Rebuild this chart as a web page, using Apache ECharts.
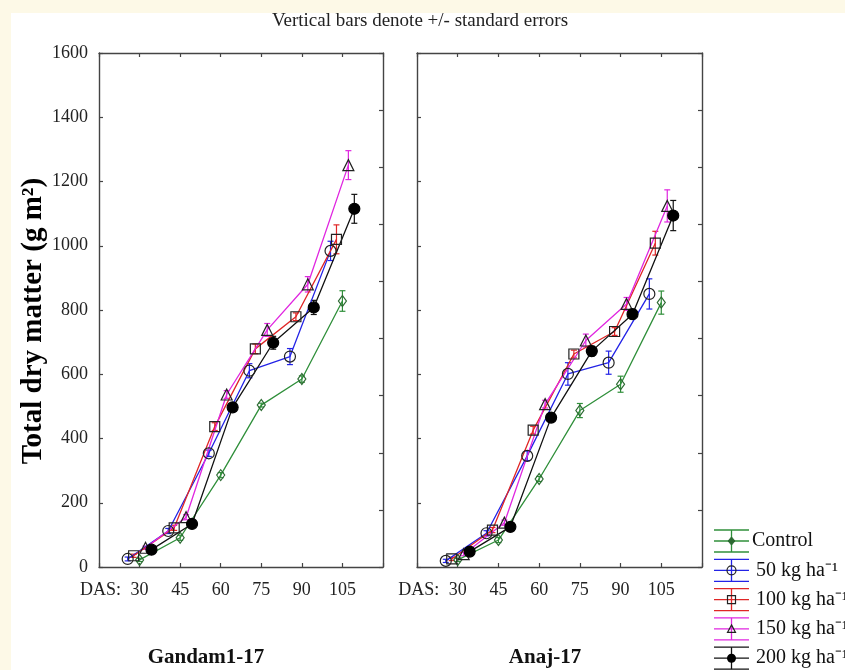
<!DOCTYPE html>
<html>
<head>
<meta charset="utf-8">
<script src="https://cdn.jsdelivr.net/npm/echarts@6/dist/echarts.min.js"></script>
<style>
  body { margin: 0; background: #fdf9e7; }
  #main { position: absolute; left: 11px; top: 13px; width: 834px; height: 657px; background: #fff; }
</style>
</head>
<body>
<div id="main"></div>
<script>
// days after sowing
var das = [30, 45, 60, 75, 90, 105];
var yTicks = [0, 200, 400, 600, 800, 1000, 1200, 1400, 1600];
var treatments = ['Control', '50 kg ha⁻¹', '100 kg ha⁻¹', '150 kg ha⁻¹', '200 kg ha⁻¹'];

// Gandam1-17 : mean total dry matter and standard error
var gandamControl = [22, 91, 286, 504, 585, 828];
var gandam50 = [25, 112, 354, 611, 655, 984];
var gandam100 = [35, 122, 437, 679, 779, 1020];
var gandam150 = [60, 155, 537, 738, 880, 1251];
var gandam200 = [54, 134, 497, 698, 808, 1115];
var gandamControlSe = [5, 8, 8, 6, 10, 32];
var gandam50Se = [6, 8, 10, 22, 25, 30];
var gandam100Se = [5, 8, 12, 15, 12, 45];
var gandam150Se = [5, 8, 12, 20, 24, 45];
var gandam200Se = [5, 8, 10, 20, 22, 45];

// Anaj-17
var anajControl = [22, 84, 274, 487, 569, 823];
var anaj50 = [19, 105, 346, 601, 636, 850];
var anaj100 = [25, 115, 426, 663, 733, 1008];
var anaj150 = [40, 138, 507, 705, 819, 1124];
var anaj200 = [48, 125, 465, 672, 787, 1094];
var anajControlSe = [5, 8, 8, 22, 25, 36];
var anaj50Se = [5, 8, 15, 35, 36, 47];
var anaj100Se = [5, 8, 12, 12, 12, 37];
var anaj150Se = [5, 8, 12, 20, 20, 50];
var anaj200Se = [5, 8, 10, 15, 15, 47];

var panels = [
  {means: [gandamControl, gandam50, gandam100, gandam150, gandam200],
   se: [gandamControlSe, gandam50Se, gandam100Se, gandam150Se, gandam200Se]},
  {means: [anajControl, anaj50, anaj100, anaj150, anaj200],
   se: [anajControlSe, anaj50Se, anaj100Se, anaj150Se, anaj200Se]}
];

/* styles */
var font = 'Liberation Serif';
var colors = ['#2f8f3a', '#2323e6', '#e02626', '#e026e0', '#111111'];
var symbols = ['diamond', 'circle', 'rect', 'triangle', 'circle'];
var symbolSizes = [[8, 11], 11, 10, 11, 11];
var symbolFill = ['rgba(0,0,0,0)', 'rgba(0,0,0,0)', 'rgba(0,0,0,0)', 'rgba(0,0,0,0)', '#000'];
var symbolBorder = ['#2c6a32', '#222', '#222', '#222', '#000'];
var dodge = [0, -4.4, -2.2, 2.2, 4.4]; // horizontal offset of each treatment (days)
var axisColor = '#444';

function renderErr(params, api) {
  var x = api.value(0);
  var lo = api.coord([x, api.value(1)]);
  var hi = api.coord([x, api.value(2)]);
  var w = 3;
  var style = {stroke: api.visual('color'), lineWidth: 1.2};
  return {
    type: 'group',
    children: [
      {type: 'line', shape: {x1: lo[0], y1: lo[1], x2: hi[0], y2: hi[1]}, style: style},
      {type: 'line', shape: {x1: lo[0] - w, y1: lo[1], x2: lo[0] + w, y2: lo[1]}, style: style},
      {type: 'line', shape: {x1: hi[0] - w, y1: hi[1], x2: hi[0] + w, y2: hi[1]}, style: style}
    ]
  };
}

var xAxis = [];
var yAxis = [];
var series = [];

panels.forEach(function (p, g) {
  var tick = {inside: true, length: 4, lineStyle: {color: axisColor, width: 1.2}};
  var line = {onZero: false, lineStyle: {color: axisColor, width: 1.4}};
  xAxis.push({
    type: 'value', gridIndex: g, min: 15, max: 120, interval: 15, position: 'bottom',
    axisLine: line, axisTick: tick, splitLine: {show: false},
    axisLabel: {
      margin: 14, color: '#222', fontFamily: font, fontSize: 18,
      formatter: function (v) {
        if (v === das[0]) return '{h|DAS:}{v|' + v + '}{s| }';
        return das.indexOf(v) >= 0 ? String(v) : '';
      },
      rich: {
        h: {width: 60, fontFamily: font, fontSize: 18, color: '#222'},
        v: {fontFamily: font, fontSize: 18, color: '#222'},
        s: {width: 60, fontFamily: font, fontSize: 18}
      }
    }
  });
  xAxis.push({
    type: 'value', gridIndex: g, min: 15, max: 120, interval: 15, position: 'top',
    axisLine: line, axisTick: tick, splitLine: {show: false}, axisLabel: {show: false}
  });
  yAxis.push({
    type: 'value', gridIndex: g, min: yTicks[0], max: yTicks[yTicks.length - 1], interval: 200,
    position: 'left', axisLine: {show: true, onZero: false, lineStyle: {color: axisColor, width: 1.4}},
    axisTick: {show: true, inside: true, length: 4, lineStyle: {color: axisColor, width: 1.2}},
    splitLine: {show: false},
    axisLabel: {show: g === 0, margin: 11, color: '#222', fontFamily: font, fontSize: 18,
      formatter: function (v) { return String(v); }},
    name: g === 0 ? 'Total dry matter (g m²)' : '',
    nameLocation: 'middle', nameGap: 51,
    nameTextStyle: {fontFamily: font, fontSize: 29, fontWeight: 'bold', color: '#000', padding: [0, 22, 0, 0]}
  });
  // mirrored right axis has its own unlabeled ticks
  yAxis.push({
    type: 'value', gridIndex: g, min: 0, max: 9, interval: 1, position: 'right',
    axisLine: {show: true, onZero: false, lineStyle: {color: axisColor, width: 1.4}},
    axisTick: {show: true, inside: true, length: 4, lineStyle: {color: axisColor, width: 1.2}},
    splitLine: {show: false}, axisLabel: {show: false}
  });

  p.means.forEach(function (m, i) {
    var pts = das.map(function (d, k) { return [d + dodge[i], m[k]]; });
    var bars = das.map(function (d, k) { return [d + dodge[i], m[k] - p.se[i][k], m[k] + p.se[i][k]]; });
    series.push({
      type: 'custom', name: treatments[i], xAxisIndex: g * 2, yAxisIndex: g * 2,
      renderItem: renderErr, itemStyle: {color: colors[i]}, data: bars, z: 2,
      encode: {x: 0, y: [1, 2]}
    });
    series.push({
      type: 'line', name: treatments[i], xAxisIndex: g * 2, yAxisIndex: g * 2,
      data: pts, symbol: symbols[i], symbolSize: symbolSizes[i], showAllSymbol: true,
      lineStyle: {color: colors[i], width: 1.3},
      itemStyle: {color: symbolFill[i], borderColor: symbolBorder[i], borderWidth: 1.2},
      emphasis: {disabled: true}, z: 3
    });
  });
});

// legend drawn by hand: error bar glyph + marker + text
var legend = [];
treatments.forEach(function (t, i) {
  var yc = 528 + i * 29.3;
  var st = {stroke: colors[i], lineWidth: 1.3};
  legend.push({type: 'line', shape: {x1: 703, y1: yc - 11, x2: 738, y2: yc - 11}, style: st});
  legend.push({type: 'line', shape: {x1: 703, y1: yc, x2: 738, y2: yc}, style: st});
  legend.push({type: 'line', shape: {x1: 703, y1: yc + 11, x2: 738, y2: yc + 11}, style: st});
  legend.push({type: 'line', shape: {x1: 720.5, y1: yc - 11, x2: 720.5, y2: yc + 11}, style: st});
  var ms = {fill: symbolFill[i], stroke: symbolBorder[i], lineWidth: 1.2};
  if (i === 0) legend.push({type: 'polygon', shape: {points: [[720.5, yc - 4], [724, yc], [720.5, yc + 4], [717, yc]]}, style: {fill: '#2c6a32', stroke: '#2c6a32'}});
  if (i === 1) legend.push({type: 'circle', shape: {cx: 720.5, cy: yc, r: 4.5}, style: ms});
  if (i === 2) legend.push({type: 'rect', shape: {x: 716.5, y: yc - 4, width: 8, height: 8}, style: ms});
  if (i === 3) legend.push({type: 'polygon', shape: {points: [[720.5, yc - 4], [724.5, yc + 3.5], [716.5, yc + 3.5]]}, style: ms});
  if (i === 4) legend.push({type: 'circle', shape: {cx: 720.5, cy: yc, r: 4.5}, style: {fill: '#000'}});
  legend.push({type: 'text', x: i === 0 ? 741 : 745, y: yc, style: {text: t, font: '20px "' + font + '"', fill: '#111', verticalAlign: 'middle'}});
});

var chart = echarts.init(document.getElementById('main'));
chart.setOption({
  animation: false,
  title: [
    {text: 'Vertical bars denote +/- standard errors', left: 409, top: -1, padding: 0, textAlign: 'center',
     textStyle: {fontFamily: font, fontSize: 19, fontWeight: 'normal', color: '#222'}},
    {text: 'Gandam1-17', left: 195, top: 634, padding: 0, textAlign: 'center',
     textStyle: {fontFamily: font, fontSize: 21, fontWeight: 'bold', color: '#111'}},
    {text: 'Anaj-17', left: 534, top: 634, padding: 0, textAlign: 'center',
     textStyle: {fontFamily: font, fontSize: 21, fontWeight: 'bold', color: '#111'}}
  ],
  grid: [
    {left: 88, top: 40, width: 284, height: 514},
    {left: 406, top: 40, width: 285, height: 514}
  ],
  xAxis: xAxis,
  yAxis: yAxis,
  series: series,
  graphic: legend
});
</script>
</body>
</html>
